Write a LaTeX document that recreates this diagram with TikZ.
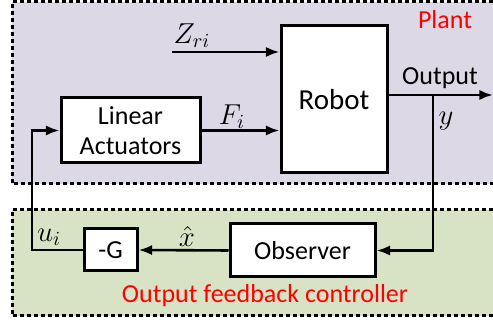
\documentclass[tikz,border=0pt]{standalone}
\usepackage{fontspec}
\setmainfont{Carlito}
\usetikzlibrary{arrows.meta}
\tikzset{>={Latex[width=1.8mm,length=2.4mm]}}
\definecolor{plantbg}{RGB}{221,216,230}
\definecolor{ctrlbg}{RGB}{215,227,196}
\tikzset{
  blockbox/.style={shape=rectangle,draw,line width=1.5pt,fill=white,font=\fontsize{13}{15}\selectfont,align=center},
  sig/.style={line width=1.3pt},
  region/.style={draw,line width=1.5pt,dash pattern=on 2pt off 1.5pt},
  redlabel/.style={text=red,font=\fontsize{13}{15}\selectfont},
  mathlabel/.style={font=\fontsize{14}{16}\selectfont}
}

\begin{document}
\begin{tikzpicture}[x=0.5pt,y=-0.5pt]

\clip (0,0) rectangle (493,324);
\useasboundingbox (0,0) rectangle (493,324);

% regions
\path[region,fill=plantbg] (500,2) -- (12,2) -- (12,184) -- (500,184);
\path[region,fill=ctrlbg] (500,210) -- (12,210) -- (12,316) -- (500,316);

% blocks
\path (130.5,130.5) node (la) [blockbox,minimum width=69.5pt,minimum height=32.5pt]{Linear\\Actuators};
\path (334,99.5) node (robot) [blockbox,minimum width=53pt,minimum height=73.5pt,font=\fontsize{14.5}{16}\selectfont]{Robot};
\path (302.5,250.5) node (obs) [blockbox,minimum width=72.5pt,minimum height=26.5pt]{Observer};
\path (110.5,250) node (negg) [blockbox,minimum width=26.5pt,minimum height=21pt]{-G};

% signal points
\coordinate (zri) at (172,52);
\coordinate (outend) at (493,95);
\coordinate (ybr) at (433,95);
\coordinate (ucorner) at (32,250);

% connectors
\draw[sig,->] (zri) -- (zri -| robot.west);
\draw[sig,->] (la.east) -- (la.east -| robot.west);
\draw[sig,->] (outend -| robot.east) -- (outend);
\draw[sig,->] (ybr) |- (obs.east);
\draw[sig,->] (obs.west) -- (negg.east);
\draw[sig,->] (negg.west) -- (ucorner) |- (la.west);

% labels
\path (192,36) node (zrilbl) [mathlabel]{$Z_{ri}$};
\path (232,117) node (filbl) [mathlabel]{$F_i$};
\path (440,78) node (outlbl) [font=\fontsize{13}{15}\selectfont]{Output};
\path (446,121) node (ylbl) [mathlabel]{$y$};
\path (187,237) node (xhatlbl) [mathlabel]{$\hat{x}$};
\path (49,237) node (uilbl) [mathlabel]{$u_i$};
\path (445,20) node (plantlbl) [redlabel]{Plant};
\path (265,296) node (ctrllbl) [redlabel]{Output feedback controller};

\end{tikzpicture}
\end{document}
